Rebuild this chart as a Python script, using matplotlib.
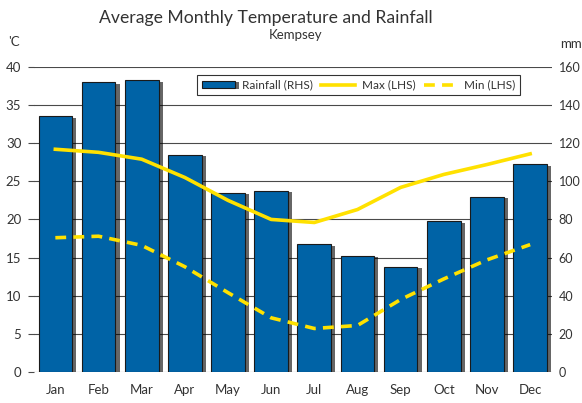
import matplotlib
matplotlib.use("Agg")
from matplotlib import pyplot as plt
from matplotlib import patheffects as pe

plt.rcParams["font.family"] = ["Lato", "DejaVu Sans"]

MONTHS = ["Jan", "Feb", "Mar", "Apr", "May", "Jun",
          "Jul", "Aug", "Sep", "Oct", "Nov", "Dec"]
RAINFALL = [134, 152, 153, 114, 94, 95, 67, 61, 55, 79, 92, 109]
MAX_TEMP = [29.2, 28.8, 27.9, 25.5, 22.5, 20.0, 19.6, 21.3, 24.2, 25.9, 27.2, 28.6]
MIN_TEMP = [17.6, 17.8, 16.6, 13.8, 10.4, 7.1, 5.7, 6.1, 9.5, 12.2, 14.7, 16.7]

BAR_COLOR = "#0063A6"
LINE_COLOR = "#FFE100"
GRID_COLOR = "#4A4A4A"
TEXT_COLOR = "#333333"

fig = plt.figure(figsize=(5.82, 4.03), dpi=100)
ax2 = fig.add_axes([0.058, 0.077, 0.89, 0.757])
ax = ax2.twinx()
ax.yaxis.tick_left()
ax.yaxis.set_label_position("left")
ax2.yaxis.tick_right()

# Bars (rainfall) on the right-hand axis, drawn underneath
x = list(range(len(MONTHS)))
bars = ax2.bar(x, RAINFALL, width=0.78, color=BAR_COLOR, edgecolor="#1a1a1a",
               linewidth=0.8, zorder=3)
for b in bars:
    b.set_path_effects([pe.SimplePatchShadow(offset=(3, -1), shadow_rgbFace="black", alpha=0.6),
                        pe.Normal()])
ax2.set_ylim(0, 160)
ax2.set_yticks(range(0, 161, 20))
ax2.set_xlim(-0.5, 11.5)
ax2.yaxis.grid(True, color=GRID_COLOR, linewidth=0.8, zorder=0)
ax2.set_axisbelow(True)
ax2.tick_params(axis="y", length=0, pad=5, labelsize=9, labelcolor=TEXT_COLOR)
ax2.set_xticks(x)
ax2.set_xticklabels(MONTHS)
ax2.tick_params(axis="x", length=0, pad=9, labelsize=9.5, labelcolor=TEXT_COLOR)

# Temperature lines on the left-hand axis, drawn on top
ax.set_zorder(ax2.get_zorder() + 1)
ax.patch.set_visible(False)
max_line, = ax.plot(x, MAX_TEMP, color=LINE_COLOR, linewidth=2.6, solid_joinstyle="round")
min_line, = ax.plot(x, MIN_TEMP, color=LINE_COLOR, linewidth=2.6, linestyle=(0, (3, 2)))
ax.set_ylim(0, 40)
ax.set_yticks(range(0, 41, 5))
ax.tick_params(axis="y", length=4, width=0.8, color=GRID_COLOR, pad=5,
               labelsize=9.5, labelcolor=TEXT_COLOR)

for a in (ax, ax2):
    for s in a.spines.values():
        s.set_visible(False)

leg = ax.legend([bars, max_line, min_line], ["Rainfall (RHS)", "Max (LHS)", "Min (LHS)"],
                loc="upper right", bbox_to_anchor=(0.938, 0.974), borderaxespad=0,
                ncol=3, frameon=True, fancybox=False, edgecolor="black", fontsize=8.5,
                handlelength=2.8, handleheight=0.5, handletextpad=0.6, columnspacing=0.7,
                borderpad=0.4, labelcolor=TEXT_COLOR)
leg.get_frame().set_linewidth(0.8)

fig.text(0.457, 0.955, "Average Monthly Temperature and Rainfall", ha="center", va="center",
         fontsize=12.7, color=TEXT_COLOR)
fig.text(0.508, 0.913, "Kempsey", ha="center", va="center", fontsize=9.5, color=TEXT_COLOR)
fig.text(0.014, 0.895, "'C", ha="left", va="center", fontsize=9.5, color=TEXT_COLOR)
fig.text(0.962, 0.89, "mm", ha="left", va="center", fontsize=9.5, color=TEXT_COLOR)

plt.savefig("out.png", dpi=100)
